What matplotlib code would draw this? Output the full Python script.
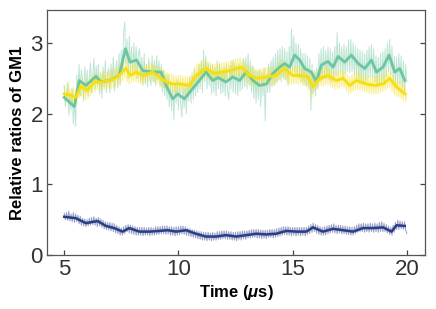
import numpy as np
import matplotlib
matplotlib.use("Agg")
import matplotlib.pyplot as plt

plt.rcParams['font.family'] = ['Liberation Sans', 'DejaVu Sans']
plt.rcParams['mathtext.fontset'] = 'custom'
plt.rcParams['mathtext.it'] = 'Liberation Sans:italic:bold'

# raw traces, one sample every 0.05 us from 5.0 to 20.0
t_raw = np.round(np.linspace(5.0, 20.0, 301), 2)

green_raw = [
    2.40, 2.10, 2.28, 2.45, 1.98, 2.30, 2.05, 2.35, 1.85, 2.22,
    1.82, 2.55, 2.30, 2.70, 2.25, 2.62, 2.48, 2.18, 2.66, 2.30,
    2.62, 2.25, 2.50, 2.72, 2.30, 2.55, 2.78, 2.35, 2.68, 2.40,
    2.70, 2.28, 2.58, 2.22, 2.66, 2.38, 2.75, 2.30, 2.55, 2.65,
    2.30, 2.70, 2.45, 2.80, 2.32, 2.62, 2.75, 2.36, 2.85, 2.40,
    2.90, 2.55, 3.15, 3.30, 2.70, 3.05, 2.50, 3.10, 2.60, 2.95,
    2.55, 3.00, 2.62, 2.95, 2.50, 2.85, 2.92, 2.45, 2.80, 2.40,
    2.85, 2.42, 2.70, 2.38, 2.78, 2.52, 2.40, 2.82, 2.45, 2.75,
    2.40, 2.82, 2.48, 2.75, 2.38, 2.70, 2.30, 2.62, 2.25, 2.55,
    2.20, 2.55, 2.10, 2.45, 2.05, 2.38, 1.92, 2.42, 2.15, 2.48,
    2.05, 2.45, 2.15, 1.95, 2.40, 2.08, 2.42, 2.00, 2.45, 2.18,
    2.52, 2.15, 2.55, 2.20, 2.62, 2.25, 2.58, 2.30, 2.70, 2.35,
    2.75, 2.30, 2.90, 2.45, 2.82, 2.35, 2.72, 2.40, 2.68, 2.28,
    2.70, 2.30, 2.65, 2.25, 2.75, 2.35, 2.70, 2.28, 2.62, 2.30,
    2.65, 2.25, 2.70, 2.32, 2.20, 2.68, 2.35, 2.75, 2.30, 2.72,
    2.28, 2.68, 2.25, 2.70, 2.32, 2.66, 2.35, 2.78, 2.38, 2.80,
    2.35, 2.85, 2.40, 2.75, 2.30, 2.68, 2.22, 2.62, 2.15, 2.60,
    2.20, 2.62, 2.10, 2.58, 2.25, 2.65, 1.90, 2.55, 2.30, 2.70,
    2.30, 2.75, 2.38, 2.80, 2.40, 2.85, 2.45, 2.90, 2.48, 2.92,
    2.45, 2.95, 2.50, 2.92, 2.48, 2.88, 2.40, 2.95, 2.55, 3.20,
    2.60, 3.10, 2.58, 3.00, 2.55, 2.98, 2.50, 2.92, 2.45, 2.85,
    2.40, 2.85, 2.38, 2.82, 2.35, 2.78, 2.05, 2.70, 2.28, 2.62,
    2.25, 2.65, 2.35, 2.85, 2.45, 2.92, 2.48, 2.95, 2.50, 2.90,
    2.50, 2.95, 2.48, 2.92, 2.45, 2.88, 2.50, 2.95, 2.55, 3.15,
    2.55, 3.00, 2.58, 2.95, 2.52, 2.98, 2.55, 2.95, 2.60, 3.05,
    2.58, 3.05, 2.60, 3.00, 2.55, 2.95, 2.50, 2.92, 2.48, 2.90,
    2.45, 2.88, 2.42, 2.85, 2.45, 2.90, 2.50, 2.95, 2.52, 2.98,
    2.50, 2.92, 2.45, 2.82, 2.38, 2.80, 2.40, 2.85, 2.42, 2.88,
    2.45, 2.92, 2.52, 3.00, 2.60, 3.05, 2.55, 2.95, 2.45, 2.82,
    2.38, 2.80, 2.40, 2.85, 2.42, 2.82, 2.35, 2.75, 2.28, 2.70,
    2.45,
]

yellow_raw = [
    2.40, 2.16, 2.35, 2.18, 2.42, 2.12, 2.36, 2.15, 2.38, 2.10,
    2.35, 2.14, 2.45, 2.22, 2.52, 2.25, 2.48, 2.22, 2.46, 2.20,
    2.45, 2.22, 2.50, 2.26, 2.55, 2.30, 2.58, 2.32, 2.57, 2.34,
    2.58, 2.32, 2.56, 2.34, 2.60, 2.33, 2.58, 2.35, 2.60, 2.36,
    2.60, 2.35, 2.62, 2.36, 2.63, 2.38, 2.65, 2.40, 2.68, 2.43,
    2.72, 2.46, 2.76, 2.50, 2.78, 2.45, 2.68, 2.42, 2.70, 2.45,
    2.72, 2.46, 2.72, 2.45, 2.70, 2.44, 2.68, 2.42, 2.67, 2.43,
    2.69, 2.44, 2.70, 2.45, 2.72, 2.46, 2.72, 2.47, 2.70, 2.45,
    2.68, 2.43, 2.67, 2.42, 2.65, 2.39, 2.63, 2.37, 2.61, 2.35,
    2.58, 2.32, 2.57, 2.31, 2.56, 2.30, 2.55, 2.30, 2.54, 2.31,
    2.54, 2.30, 2.55, 2.30, 2.53, 2.29, 2.53, 2.30, 2.52, 2.28,
    2.53, 2.30, 2.58, 2.37, 2.65, 2.41, 2.70, 2.44, 2.71, 2.48,
    2.74, 2.50, 2.76, 2.52, 2.76, 2.50, 2.74, 2.48, 2.72, 2.46,
    2.70, 2.45, 2.70, 2.46, 2.71, 2.46, 2.72, 2.47, 2.72, 2.47,
    2.73, 2.48, 2.73, 2.49, 2.74, 2.50, 2.75, 2.50, 2.76, 2.51,
    2.77, 2.52, 2.78, 2.53, 2.80, 2.54, 2.77, 2.50, 2.73, 2.46,
    2.70, 2.43, 2.67, 2.41, 2.66, 2.40, 2.65, 2.39, 2.64, 2.38,
    2.63, 2.38, 2.64, 2.39, 2.64, 2.40, 2.65, 2.40, 2.65, 2.40,
    2.66, 2.41, 2.66, 2.41, 2.66, 2.42, 2.67, 2.44, 2.71, 2.48,
    2.76, 2.52, 2.75, 2.48, 2.71, 2.44, 2.68, 2.42, 2.67, 2.42,
    2.67, 2.42, 2.67, 2.42, 2.67, 2.42, 2.67, 2.42, 2.66, 2.41,
    2.66, 2.41, 2.65, 2.40, 2.63, 2.32, 2.55, 2.22, 2.54, 2.32,
    2.59, 2.36, 2.62, 2.38, 2.63, 2.39, 2.65, 2.40, 2.66, 2.41,
    2.67, 2.41, 2.65, 2.39, 2.63, 2.37, 2.61, 2.35, 2.60, 2.36,
    2.61, 2.36, 2.62, 2.38, 2.63, 2.36, 2.59, 2.32, 2.55, 2.28,
    2.53, 2.29, 2.55, 2.31, 2.58, 2.34, 2.60, 2.34, 2.59, 2.33,
    2.57, 2.32, 2.56, 2.31, 2.55, 2.30, 2.54, 2.29, 2.53, 2.28,
    2.53, 2.28, 2.53, 2.28, 2.54, 2.29, 2.55, 2.30, 2.55, 2.31,
    2.57, 2.33, 2.60, 2.36, 2.63, 2.37, 2.59, 2.31, 2.53, 2.26,
    2.51, 2.25, 2.49, 2.23, 2.47, 2.21, 2.45, 2.19, 2.43, 2.17,
    2.30,
]

blue_raw = [
    0.59, 0.50, 0.60, 0.49, 0.62, 0.48, 0.58, 0.47, 0.60, 0.46,
    0.58, 0.47, 0.56, 0.44, 0.55, 0.42, 0.52, 0.41, 0.51, 0.40,
    0.50, 0.41, 0.52, 0.42, 0.53, 0.43, 0.54, 0.42, 0.52, 0.40,
    0.53, 0.41, 0.51, 0.39, 0.49, 0.37, 0.47, 0.36, 0.46, 0.35,
    0.46, 0.34, 0.45, 0.33, 0.44, 0.31, 0.42, 0.30, 0.40, 0.28,
    0.38, 0.28, 0.40, 0.30, 0.42, 0.33, 0.43, 0.31, 0.42, 0.30,
    0.41, 0.29, 0.40, 0.28, 0.39, 0.28, 0.39, 0.28, 0.39, 0.27,
    0.39, 0.28, 0.38, 0.28, 0.39, 0.27, 0.39, 0.28, 0.38, 0.28,
    0.40, 0.29, 0.40, 0.29, 0.40, 0.30, 0.41, 0.30, 0.41, 0.29,
    0.41, 0.30, 0.40, 0.28, 0.40, 0.28, 0.39, 0.27, 0.40, 0.28,
    0.40, 0.29, 0.41, 0.30, 0.41, 0.29, 0.40, 0.28, 0.38, 0.27,
    0.37, 0.26, 0.36, 0.25, 0.35, 0.24, 0.34, 0.23, 0.33, 0.22,
    0.33, 0.21, 0.32, 0.21, 0.32, 0.20, 0.32, 0.21, 0.31, 0.20,
    0.32, 0.21, 0.31, 0.21, 0.33, 0.22, 0.33, 0.22, 0.34, 0.23,
    0.34, 0.23, 0.34, 0.22, 0.33, 0.22, 0.33, 0.21, 0.32, 0.21,
    0.32, 0.20, 0.33, 0.22, 0.33, 0.21, 0.34, 0.23, 0.34, 0.22,
    0.34, 0.24, 0.35, 0.24, 0.36, 0.25, 0.36, 0.25, 0.36, 0.24,
    0.36, 0.24, 0.35, 0.23, 0.35, 0.24, 0.35, 0.23, 0.35, 0.25,
    0.36, 0.25, 0.36, 0.24, 0.36, 0.25, 0.37, 0.26, 0.38, 0.27,
    0.39, 0.28, 0.40, 0.29, 0.40, 0.28, 0.40, 0.28, 0.39, 0.27,
    0.39, 0.28, 0.39, 0.27, 0.39, 0.28, 0.39, 0.27, 0.39, 0.28,
    0.39, 0.27, 0.39, 0.29, 0.41, 0.30, 0.43, 0.32, 0.45, 0.33,
    0.43, 0.31, 0.42, 0.29, 0.40, 0.28, 0.39, 0.28, 0.40, 0.28,
    0.41, 0.30, 0.42, 0.31, 0.43, 0.32, 0.44, 0.31, 0.42, 0.30,
    0.42, 0.31, 0.42, 0.30, 0.41, 0.30, 0.41, 0.29, 0.40, 0.29,
    0.40, 0.28, 0.39, 0.28, 0.40, 0.30, 0.42, 0.32, 0.44, 0.33,
    0.44, 0.33, 0.45, 0.32, 0.44, 0.33, 0.44, 0.32, 0.45, 0.33,
    0.44, 0.32, 0.45, 0.33, 0.44, 0.32, 0.46, 0.33, 0.47, 0.33,
    0.45, 0.33, 0.43, 0.31, 0.41, 0.29, 0.39, 0.28, 0.42, 0.32,
    0.46, 0.36, 0.49, 0.36, 0.48, 0.37, 0.47, 0.36, 0.47, 0.35,
    0.30,
]

# smoothed traces
t_green = [5.0, 5.44, 5.66, 5.95, 6.39, 6.6, 6.97, 7.41, 7.68, 7.88, 8.17,
           8.44, 8.87, 9.24, 9.46, 9.75, 9.97, 10.26, 10.56, 10.92, 11.21,
           11.5, 11.73, 12.09, 12.38, 12.68, 12.97, 13.26, 13.55, 13.85,
           14.14, 14.43, 14.65, 14.87, 15.09, 15.31, 15.53, 15.82, 16.04,
           16.26, 16.55, 16.77, 16.99, 17.28, 17.57, 17.87, 18.16, 18.45,
           18.67, 18.96, 19.22, 19.47, 19.69, 19.91]
green_s = [2.23, 2.10, 2.47, 2.40, 2.53, 2.45, 2.47, 2.54, 2.92, 2.73, 2.76,
           2.61, 2.59, 2.59, 2.40, 2.21, 2.28, 2.21, 2.33, 2.47, 2.59,
           2.47, 2.51, 2.45, 2.52, 2.47, 2.59, 2.47, 2.40, 2.42,
           2.57, 2.66, 2.71, 2.66, 2.83, 2.76, 2.64, 2.59, 2.45,
           2.69, 2.74, 2.66, 2.81, 2.73, 2.83, 2.71, 2.64, 2.76,
           2.59, 2.66, 2.83, 2.59, 2.64, 2.47]

t_yellow = [5.0, 5.29, 5.51, 5.73, 6.02, 6.32, 6.68, 6.97, 7.34, 7.70, 7.92,
            8.14, 8.44, 8.87, 9.17, 9.46, 9.75, 10.12, 10.48, 10.77, 11.21,
            11.58, 11.94, 12.38, 12.75, 13.11, 13.48, 13.85, 14.28, 14.65,
            15.01, 15.38, 15.67, 15.89, 16.18, 16.55, 16.92, 17.21, 17.5,
            17.79, 18.23, 18.6, 18.96, 19.25, 19.55, 19.91]
yellow_s = [2.28, 2.26, 2.23, 2.39, 2.33, 2.45, 2.45, 2.47, 2.52, 2.64, 2.54,
            2.59, 2.54, 2.59, 2.52, 2.45, 2.42, 2.42, 2.40, 2.54, 2.64,
            2.57, 2.59, 2.62, 2.66, 2.54, 2.50, 2.52, 2.54, 2.64,
            2.54, 2.54, 2.52, 2.38, 2.50, 2.54, 2.47, 2.50, 2.40,
            2.47, 2.42, 2.40, 2.42, 2.50, 2.38, 2.28]

t_blue = [5.0, 5.51, 5.95, 6.46, 6.83, 7.19, 7.56, 7.85, 8.29, 8.73, 9.17,
          9.53, 9.90, 10.34, 10.77, 11.21, 11.65, 12.09, 12.53, 12.97, 13.41,
          13.85, 14.28, 14.72, 15.16, 15.6, 15.89, 16.33, 16.77, 17.21,
          17.65, 18.08, 18.52, 18.96, 19.33, 19.55, 19.91]
blue_s = [0.54, 0.52, 0.45, 0.48, 0.41, 0.38, 0.33, 0.38, 0.33, 0.33, 0.34,
          0.35, 0.33, 0.35, 0.30, 0.26, 0.26, 0.28, 0.26, 0.28, 0.30,
          0.29, 0.30, 0.34, 0.33, 0.33, 0.39, 0.33, 0.37, 0.35,
          0.33, 0.38, 0.38, 0.39, 0.33, 0.42, 0.41]

c_green = '#6cc69f'
c_yellow = '#f7df0f'
c_blue = '#2b3d87'

fig = plt.figure(figsize=(4.36, 3.09), dpi=100)
ax = fig.add_axes([0.108, 0.175, 0.867, 0.793])

ax.plot(t_raw, blue_raw, color=c_blue, lw=0.7, alpha=0.5)
ax.plot(t_raw, green_raw, color=c_green, lw=0.7, alpha=0.45)
ax.plot(t_raw, yellow_raw, color=c_yellow, lw=0.7, alpha=0.5)

ax.plot(t_blue, blue_s, color=c_blue, lw=1.8)
ax.plot(t_green, green_s, color=c_green, lw=2.0)
ax.plot(t_yellow, yellow_s, color=c_yellow, lw=2.0)

ax.set_xlim(4.25, 20.8)
ax.set_ylim(0, 3.47)
ax.set_xticks([5, 10, 15, 20])
ax.set_yticks([0, 1, 2, 3])

for s in ax.spines.values():
    s.set_color('#555555')
    s.set_linewidth(0.9)
ax.tick_params(direction='in', length=3.5, width=0.9, color='#444444',
               labelsize=16, labelcolor='#333333', right=True, top=False,
               pad=3)

ax.set_xlabel(r'Time ($\mu$s)', fontsize=12, fontweight='bold', labelpad=2)
ax.set_ylabel('Relative ratios of GM1', fontsize=12, fontweight='bold', labelpad=4)

fig.savefig('out.png', dpi=100)
